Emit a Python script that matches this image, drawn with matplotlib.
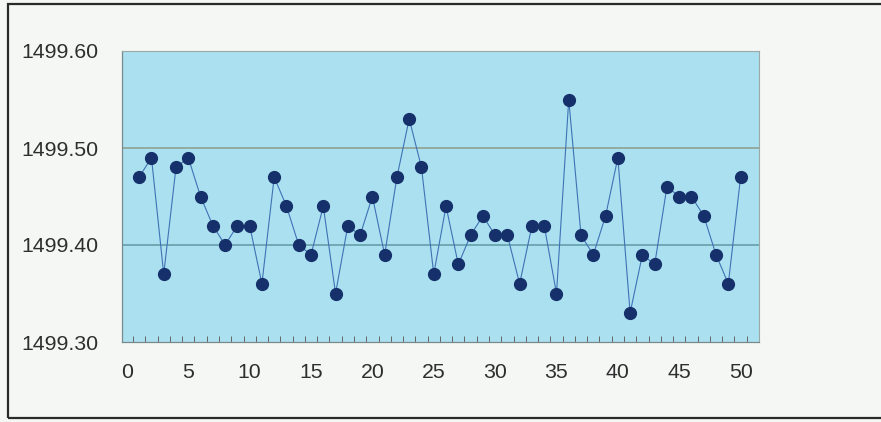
import numpy as np
import matplotlib.pyplot as plt
from matplotlib.patches import Rectangle

# sample number and measured value (offset from 1499)
samples = np.arange(1, 51)
values = [1.47, 1.49, 1.37, 1.48, 1.49, 1.45, 1.42, 1.40, 1.42, 1.42,
          1.36, 1.47, 1.44, 1.40, 1.39, 1.44, 1.35, 1.42, 1.41, 1.45,
          1.39, 1.47, 1.53, 1.48, 1.37, 1.44, 1.38, 1.41, 1.43, 1.41,
          1.41, 1.36, 1.42, 1.42, 1.35, 1.55, 1.41, 1.39, 1.43, 1.49,
          1.33, 1.39, 1.38, 1.46, 1.45, 1.45, 1.43, 1.39, 1.36, 1.47]
values = 1498 + np.array(values)

y_ticks = [1499.30, 1499.40, 1499.50, 1499.60]
x_ticks = np.arange(0, 51, 5)

plt.rcParams['font.family'] = ['Liberation Sans', 'DejaVu Sans']

fig = plt.figure(figsize=(8.81, 4.22), dpi=100)
fig.patch.set_facecolor('#f5f7f5')
ax = fig.add_axes([122 / 881, 1 - 342 / 422, (759 - 122) / 881, (342 - 51) / 422])
ax.set_facecolor('#abe0f0')

# frame around the whole chart
fig.patches.append(Rectangle((8 / 881, 4 / 422), 1.0, 414 / 422, transform=fig.transFigure,
                             fill=False, edgecolor='#2a2a2a', linewidth=1.6, clip_on=False))

ax.axhline(1499.50, color='#8c9c8a', linewidth=1.1, zorder=1)
ax.axhline(1499.40, color='#5f9aa2', linewidth=1.1, zorder=1)

ax.plot(samples, values, color='#3f72b5', linewidth=0.8, zorder=2)
ax.plot(samples, values, 'o', color='#15306a', markersize=8.5, zorder=3)

ax.set_xlim(-0.4, 51.5)
ax.set_ylim(1499.30, 1499.60)
ax.set_yticks(y_ticks)
ax.set_yticklabels([f'{v:.2f}' for v in y_ticks])
ax.set_xticks(x_ticks)
ax.set_xticks(np.arange(0.5, 51, 1), minor=True)
ax.tick_params(axis='y', length=0, pad=17, labelsize=15.3, labelcolor='#2e2e2e')
ax.tick_params(axis='x', which='major', length=0, pad=15, labelsize=15.3, labelcolor='#2e2e2e')
ax.tick_params(axis='x', which='minor', direction='in', length=4, width=0.7, color='#666666')

for side in ['left', 'bottom']:
    ax.spines[side].set_color('#7a8a8a')
    ax.spines[side].set_linewidth(0.9)
for side in ['top', 'right']:
    ax.spines[side].set_color('#9aa8a8')
    ax.spines[side].set_linewidth(0.8)

plt.savefig('out.png', dpi=100, facecolor=fig.get_facecolor())
